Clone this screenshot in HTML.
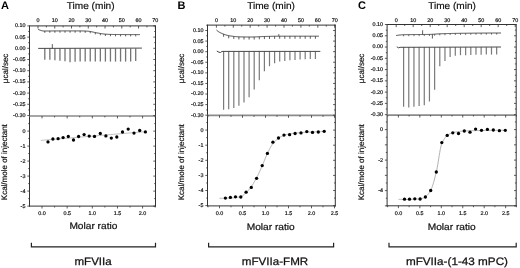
<!DOCTYPE html>
<html><head><meta charset="utf-8"><style>
html,body{margin:0;padding:0;background:#fff;}
svg{display:block;filter:blur(0.3px);}
text{font-family:"Liberation Sans", sans-serif;text-rendering:geometricPrecision;}
</style></head><body>
<svg width="520" height="268" viewBox="0 0 520 268">
<rect width="520" height="268" fill="#fff"/>
<line x1="29.5" y1="25.9" x2="155.5" y2="25.9" stroke="#333" stroke-width="1.0"/>
<line x1="29.5" y1="25.4" x2="29.5" y2="206.6" stroke="#333" stroke-width="1.0"/>
<line x1="155.5" y1="25.4" x2="155.5" y2="206.6" stroke="#333" stroke-width="1.0"/>
<line x1="29" y1="206.1" x2="156" y2="206.1" stroke="#333" stroke-width="1.0"/>
<line x1="29.5" y1="116" x2="155.5" y2="116" stroke="#8a8a8a" stroke-width="1.7"/>
<line x1="38" y1="25.9" x2="38" y2="28.5" stroke="#333" stroke-width="0.8"/>
<text x="38" y="22.2" font-size="5.4" text-anchor="middle" fill="#111" stroke="#111" stroke-width="0.2">0</text>
<line x1="46.38" y1="25.9" x2="46.38" y2="27.4" stroke="#333" stroke-width="0.8"/>
<line x1="54.76" y1="25.9" x2="54.76" y2="28.5" stroke="#333" stroke-width="0.8"/>
<text x="54.76" y="22.2" font-size="5.4" text-anchor="middle" fill="#111" stroke="#111" stroke-width="0.2">10</text>
<line x1="63.14" y1="25.9" x2="63.14" y2="27.4" stroke="#333" stroke-width="0.8"/>
<line x1="71.52" y1="25.9" x2="71.52" y2="28.5" stroke="#333" stroke-width="0.8"/>
<text x="71.52" y="22.2" font-size="5.4" text-anchor="middle" fill="#111" stroke="#111" stroke-width="0.2">20</text>
<line x1="79.9" y1="25.9" x2="79.9" y2="27.4" stroke="#333" stroke-width="0.8"/>
<line x1="88.28" y1="25.9" x2="88.28" y2="28.5" stroke="#333" stroke-width="0.8"/>
<text x="88.28" y="22.2" font-size="5.4" text-anchor="middle" fill="#111" stroke="#111" stroke-width="0.2">30</text>
<line x1="96.66" y1="25.9" x2="96.66" y2="27.4" stroke="#333" stroke-width="0.8"/>
<line x1="105.04" y1="25.9" x2="105.04" y2="28.5" stroke="#333" stroke-width="0.8"/>
<text x="105.04" y="22.2" font-size="5.4" text-anchor="middle" fill="#111" stroke="#111" stroke-width="0.2">40</text>
<line x1="113.42" y1="25.9" x2="113.42" y2="27.4" stroke="#333" stroke-width="0.8"/>
<line x1="121.8" y1="25.9" x2="121.8" y2="28.5" stroke="#333" stroke-width="0.8"/>
<text x="121.8" y="22.2" font-size="5.4" text-anchor="middle" fill="#111" stroke="#111" stroke-width="0.2">50</text>
<line x1="130.18" y1="25.9" x2="130.18" y2="27.4" stroke="#333" stroke-width="0.8"/>
<line x1="138.56" y1="25.9" x2="138.56" y2="28.5" stroke="#333" stroke-width="0.8"/>
<text x="138.56" y="22.2" font-size="5.4" text-anchor="middle" fill="#111" stroke="#111" stroke-width="0.2">60</text>
<line x1="146.94" y1="25.9" x2="146.94" y2="27.4" stroke="#333" stroke-width="0.8"/>
<line x1="155.32" y1="25.9" x2="155.32" y2="28.5" stroke="#333" stroke-width="0.8"/>
<text x="155.32" y="22.2" font-size="5.4" text-anchor="middle" fill="#111" stroke="#111" stroke-width="0.2">70</text>
<line x1="27.3" y1="25.9" x2="29.5" y2="25.9" stroke="#333" stroke-width="0.8"/>
<line x1="153.3" y1="25.9" x2="155.5" y2="25.9" stroke="#333" stroke-width="0.8"/>
<text x="25.4" y="27.35" font-size="5.4" text-anchor="end" fill="#111" stroke="#111" stroke-width="0.2">0.10</text>
<line x1="28.2" y1="31.5" x2="29.5" y2="31.5" stroke="#333" stroke-width="0.8"/>
<line x1="154.2" y1="31.5" x2="155.5" y2="31.5" stroke="#333" stroke-width="0.8"/>
<line x1="27.3" y1="37.1" x2="29.5" y2="37.1" stroke="#333" stroke-width="0.8"/>
<line x1="153.3" y1="37.1" x2="155.5" y2="37.1" stroke="#333" stroke-width="0.8"/>
<text x="25.4" y="38.55" font-size="5.4" text-anchor="end" fill="#111" stroke="#111" stroke-width="0.2">0.05</text>
<line x1="28.2" y1="42.7" x2="29.5" y2="42.7" stroke="#333" stroke-width="0.8"/>
<line x1="154.2" y1="42.7" x2="155.5" y2="42.7" stroke="#333" stroke-width="0.8"/>
<line x1="27.3" y1="48.3" x2="29.5" y2="48.3" stroke="#333" stroke-width="0.8"/>
<line x1="153.3" y1="48.3" x2="155.5" y2="48.3" stroke="#333" stroke-width="0.8"/>
<text x="25.4" y="49.75" font-size="5.4" text-anchor="end" fill="#111" stroke="#111" stroke-width="0.2">0.00</text>
<line x1="28.2" y1="53.9" x2="29.5" y2="53.9" stroke="#333" stroke-width="0.8"/>
<line x1="154.2" y1="53.9" x2="155.5" y2="53.9" stroke="#333" stroke-width="0.8"/>
<line x1="27.3" y1="59.5" x2="29.5" y2="59.5" stroke="#333" stroke-width="0.8"/>
<line x1="153.3" y1="59.5" x2="155.5" y2="59.5" stroke="#333" stroke-width="0.8"/>
<text x="25.4" y="60.95" font-size="5.4" text-anchor="end" fill="#111" stroke="#111" stroke-width="0.2">-0.05</text>
<line x1="28.2" y1="65.1" x2="29.5" y2="65.1" stroke="#333" stroke-width="0.8"/>
<line x1="154.2" y1="65.1" x2="155.5" y2="65.1" stroke="#333" stroke-width="0.8"/>
<line x1="27.3" y1="70.7" x2="29.5" y2="70.7" stroke="#333" stroke-width="0.8"/>
<line x1="153.3" y1="70.7" x2="155.5" y2="70.7" stroke="#333" stroke-width="0.8"/>
<text x="25.4" y="72.15" font-size="5.4" text-anchor="end" fill="#111" stroke="#111" stroke-width="0.2">-0.10</text>
<line x1="28.2" y1="76.3" x2="29.5" y2="76.3" stroke="#333" stroke-width="0.8"/>
<line x1="154.2" y1="76.3" x2="155.5" y2="76.3" stroke="#333" stroke-width="0.8"/>
<line x1="27.3" y1="81.9" x2="29.5" y2="81.9" stroke="#333" stroke-width="0.8"/>
<line x1="153.3" y1="81.9" x2="155.5" y2="81.9" stroke="#333" stroke-width="0.8"/>
<text x="25.4" y="83.35" font-size="5.4" text-anchor="end" fill="#111" stroke="#111" stroke-width="0.2">-0.15</text>
<line x1="28.2" y1="87.5" x2="29.5" y2="87.5" stroke="#333" stroke-width="0.8"/>
<line x1="154.2" y1="87.5" x2="155.5" y2="87.5" stroke="#333" stroke-width="0.8"/>
<line x1="27.3" y1="93.1" x2="29.5" y2="93.1" stroke="#333" stroke-width="0.8"/>
<line x1="153.3" y1="93.1" x2="155.5" y2="93.1" stroke="#333" stroke-width="0.8"/>
<text x="25.4" y="94.55" font-size="5.4" text-anchor="end" fill="#111" stroke="#111" stroke-width="0.2">-0.20</text>
<line x1="28.2" y1="98.7" x2="29.5" y2="98.7" stroke="#333" stroke-width="0.8"/>
<line x1="154.2" y1="98.7" x2="155.5" y2="98.7" stroke="#333" stroke-width="0.8"/>
<line x1="27.3" y1="104.3" x2="29.5" y2="104.3" stroke="#333" stroke-width="0.8"/>
<line x1="153.3" y1="104.3" x2="155.5" y2="104.3" stroke="#333" stroke-width="0.8"/>
<text x="25.4" y="105.75" font-size="5.4" text-anchor="end" fill="#111" stroke="#111" stroke-width="0.2">-0.25</text>
<line x1="28.2" y1="109.9" x2="29.5" y2="109.9" stroke="#333" stroke-width="0.8"/>
<line x1="154.2" y1="109.9" x2="155.5" y2="109.9" stroke="#333" stroke-width="0.8"/>
<line x1="27.3" y1="115.5" x2="29.5" y2="115.5" stroke="#333" stroke-width="0.8"/>
<line x1="153.3" y1="115.5" x2="155.5" y2="115.5" stroke="#333" stroke-width="0.8"/>
<text x="25.4" y="116.95" font-size="5.4" text-anchor="end" fill="#111" stroke="#111" stroke-width="0.2">-0.30</text>
<line x1="28.2" y1="123.6" x2="29.5" y2="123.6" stroke="#333" stroke-width="0.8"/>
<line x1="154.2" y1="123.6" x2="155.5" y2="123.6" stroke="#333" stroke-width="0.8"/>
<line x1="27.3" y1="131.1" x2="29.5" y2="131.1" stroke="#333" stroke-width="0.8"/>
<line x1="153.3" y1="131.1" x2="155.5" y2="131.1" stroke="#333" stroke-width="0.8"/>
<text x="25.4" y="132.9" font-size="5.4" text-anchor="end" fill="#111" stroke="#111" stroke-width="0.2">0</text>
<line x1="28.2" y1="138.6" x2="29.5" y2="138.6" stroke="#333" stroke-width="0.8"/>
<line x1="154.2" y1="138.6" x2="155.5" y2="138.6" stroke="#333" stroke-width="0.8"/>
<line x1="27.3" y1="146.1" x2="29.5" y2="146.1" stroke="#333" stroke-width="0.8"/>
<line x1="153.3" y1="146.1" x2="155.5" y2="146.1" stroke="#333" stroke-width="0.8"/>
<text x="25.4" y="147.9" font-size="5.4" text-anchor="end" fill="#111" stroke="#111" stroke-width="0.2">-1</text>
<line x1="28.2" y1="153.6" x2="29.5" y2="153.6" stroke="#333" stroke-width="0.8"/>
<line x1="154.2" y1="153.6" x2="155.5" y2="153.6" stroke="#333" stroke-width="0.8"/>
<line x1="27.3" y1="161.1" x2="29.5" y2="161.1" stroke="#333" stroke-width="0.8"/>
<line x1="153.3" y1="161.1" x2="155.5" y2="161.1" stroke="#333" stroke-width="0.8"/>
<text x="25.4" y="162.9" font-size="5.4" text-anchor="end" fill="#111" stroke="#111" stroke-width="0.2">-2</text>
<line x1="28.2" y1="168.6" x2="29.5" y2="168.6" stroke="#333" stroke-width="0.8"/>
<line x1="154.2" y1="168.6" x2="155.5" y2="168.6" stroke="#333" stroke-width="0.8"/>
<line x1="27.3" y1="176.1" x2="29.5" y2="176.1" stroke="#333" stroke-width="0.8"/>
<line x1="153.3" y1="176.1" x2="155.5" y2="176.1" stroke="#333" stroke-width="0.8"/>
<text x="25.4" y="177.9" font-size="5.4" text-anchor="end" fill="#111" stroke="#111" stroke-width="0.2">-3</text>
<line x1="28.2" y1="183.6" x2="29.5" y2="183.6" stroke="#333" stroke-width="0.8"/>
<line x1="154.2" y1="183.6" x2="155.5" y2="183.6" stroke="#333" stroke-width="0.8"/>
<line x1="27.3" y1="191.1" x2="29.5" y2="191.1" stroke="#333" stroke-width="0.8"/>
<line x1="153.3" y1="191.1" x2="155.5" y2="191.1" stroke="#333" stroke-width="0.8"/>
<text x="25.4" y="192.9" font-size="5.4" text-anchor="end" fill="#111" stroke="#111" stroke-width="0.2">-4</text>
<line x1="28.2" y1="198.6" x2="29.5" y2="198.6" stroke="#333" stroke-width="0.8"/>
<line x1="154.2" y1="198.6" x2="155.5" y2="198.6" stroke="#333" stroke-width="0.8"/>
<line x1="27.3" y1="206.1" x2="29.5" y2="206.1" stroke="#333" stroke-width="0.8"/>
<line x1="153.3" y1="206.1" x2="155.5" y2="206.1" stroke="#333" stroke-width="0.8"/>
<text x="25.4" y="207.9" font-size="5.4" text-anchor="end" fill="#111" stroke="#111" stroke-width="0.2">-5</text>
<line x1="42" y1="206.1" x2="42" y2="208.5" stroke="#333" stroke-width="0.8"/>
<line x1="42" y1="116" x2="42" y2="118.4" stroke="#333" stroke-width="0.8"/>
<text x="42" y="214.9" font-size="5.4" text-anchor="middle" fill="#111" stroke="#111" stroke-width="0.2">0.0</text>
<line x1="54.58" y1="206.1" x2="54.58" y2="207.5" stroke="#333" stroke-width="0.8"/>
<line x1="54.58" y1="116" x2="54.58" y2="117.4" stroke="#333" stroke-width="0.8"/>
<line x1="67.15" y1="206.1" x2="67.15" y2="208.5" stroke="#333" stroke-width="0.8"/>
<line x1="67.15" y1="116" x2="67.15" y2="118.4" stroke="#333" stroke-width="0.8"/>
<text x="67.15" y="214.9" font-size="5.4" text-anchor="middle" fill="#111" stroke="#111" stroke-width="0.2">0.5</text>
<line x1="79.72" y1="206.1" x2="79.72" y2="207.5" stroke="#333" stroke-width="0.8"/>
<line x1="79.72" y1="116" x2="79.72" y2="117.4" stroke="#333" stroke-width="0.8"/>
<line x1="92.3" y1="206.1" x2="92.3" y2="208.5" stroke="#333" stroke-width="0.8"/>
<line x1="92.3" y1="116" x2="92.3" y2="118.4" stroke="#333" stroke-width="0.8"/>
<text x="92.3" y="214.9" font-size="5.4" text-anchor="middle" fill="#111" stroke="#111" stroke-width="0.2">1.0</text>
<line x1="104.88" y1="206.1" x2="104.88" y2="207.5" stroke="#333" stroke-width="0.8"/>
<line x1="104.88" y1="116" x2="104.88" y2="117.4" stroke="#333" stroke-width="0.8"/>
<line x1="117.45" y1="206.1" x2="117.45" y2="208.5" stroke="#333" stroke-width="0.8"/>
<line x1="117.45" y1="116" x2="117.45" y2="118.4" stroke="#333" stroke-width="0.8"/>
<text x="117.45" y="214.9" font-size="5.4" text-anchor="middle" fill="#111" stroke="#111" stroke-width="0.2">1.5</text>
<line x1="130.02" y1="206.1" x2="130.02" y2="207.5" stroke="#333" stroke-width="0.8"/>
<line x1="130.02" y1="116" x2="130.02" y2="117.4" stroke="#333" stroke-width="0.8"/>
<line x1="142.6" y1="206.1" x2="142.6" y2="208.5" stroke="#333" stroke-width="0.8"/>
<line x1="142.6" y1="116" x2="142.6" y2="118.4" stroke="#333" stroke-width="0.8"/>
<text x="142.6" y="214.9" font-size="5.4" text-anchor="middle" fill="#111" stroke="#111" stroke-width="0.2">2.0</text>
<line x1="155.18" y1="206.1" x2="155.18" y2="207.5" stroke="#333" stroke-width="0.8"/>
<line x1="155.18" y1="116" x2="155.18" y2="117.4" stroke="#333" stroke-width="0.8"/>
<text x="7.6" y="68.4" font-size="8" text-anchor="middle" transform="rotate(-90 7.6 68.4)" fill="#111" stroke="#111" stroke-width="0.18">&#956;cal/sec</text>
<text x="7.4" y="162.2" font-size="8" text-anchor="middle" transform="rotate(-90 7.4 162.2)" fill="#111" stroke="#111" stroke-width="0.18">Kcal/mole of injectant</text>
<text x="1" y="8.7" font-size="11" text-anchor="start" font-weight="bold" fill="#000">A</text>
<text x="66.8" y="8.6" font-size="9.8" text-anchor="start" textLength="47.8" lengthAdjust="spacingAndGlyphs" fill="#111" stroke="#111" stroke-width="0.2">Time (min)</text>
<text x="69.4" y="229.4" font-size="9.4" text-anchor="start" textLength="48" lengthAdjust="spacingAndGlyphs" fill="#111" stroke="#111" stroke-width="0.2">Molar ratio</text>
<text x="74.5" y="265.4" font-size="10.8" text-anchor="start" textLength="37.2" lengthAdjust="spacingAndGlyphs" fill="#111" stroke="#111" stroke-width="0.25">mFVIIa</text>
<polyline points="31.4,242.7 31.4,246.8 155.5,246.8 155.5,242.7" fill="none" stroke="#222" stroke-width="1.2"/>
<line x1="207.5" y1="25.1" x2="335.3" y2="25.1" stroke="#333" stroke-width="1.0"/>
<line x1="207.5" y1="24.6" x2="207.5" y2="206.4" stroke="#333" stroke-width="1.0"/>
<line x1="335.3" y1="24.6" x2="335.3" y2="206.4" stroke="#333" stroke-width="1.0"/>
<line x1="207" y1="205.9" x2="335.8" y2="205.9" stroke="#333" stroke-width="1.0"/>
<line x1="207.5" y1="115.4" x2="335.3" y2="115.4" stroke="#8a8a8a" stroke-width="1.7"/>
<line x1="216.4" y1="25.1" x2="216.4" y2="27.7" stroke="#333" stroke-width="0.8"/>
<text x="216.4" y="22.2" font-size="5.4" text-anchor="middle" fill="#111" stroke="#111" stroke-width="0.2">0</text>
<line x1="224.85" y1="25.1" x2="224.85" y2="26.6" stroke="#333" stroke-width="0.8"/>
<line x1="233.3" y1="25.1" x2="233.3" y2="27.7" stroke="#333" stroke-width="0.8"/>
<text x="233.3" y="22.2" font-size="5.4" text-anchor="middle" fill="#111" stroke="#111" stroke-width="0.2">10</text>
<line x1="241.75" y1="25.1" x2="241.75" y2="26.6" stroke="#333" stroke-width="0.8"/>
<line x1="250.2" y1="25.1" x2="250.2" y2="27.7" stroke="#333" stroke-width="0.8"/>
<text x="250.2" y="22.2" font-size="5.4" text-anchor="middle" fill="#111" stroke="#111" stroke-width="0.2">20</text>
<line x1="258.65" y1="25.1" x2="258.65" y2="26.6" stroke="#333" stroke-width="0.8"/>
<line x1="267.1" y1="25.1" x2="267.1" y2="27.7" stroke="#333" stroke-width="0.8"/>
<text x="267.1" y="22.2" font-size="5.4" text-anchor="middle" fill="#111" stroke="#111" stroke-width="0.2">30</text>
<line x1="275.55" y1="25.1" x2="275.55" y2="26.6" stroke="#333" stroke-width="0.8"/>
<line x1="284" y1="25.1" x2="284" y2="27.7" stroke="#333" stroke-width="0.8"/>
<text x="284" y="22.2" font-size="5.4" text-anchor="middle" fill="#111" stroke="#111" stroke-width="0.2">40</text>
<line x1="292.45" y1="25.1" x2="292.45" y2="26.6" stroke="#333" stroke-width="0.8"/>
<line x1="300.9" y1="25.1" x2="300.9" y2="27.7" stroke="#333" stroke-width="0.8"/>
<text x="300.9" y="22.2" font-size="5.4" text-anchor="middle" fill="#111" stroke="#111" stroke-width="0.2">50</text>
<line x1="309.35" y1="25.1" x2="309.35" y2="26.6" stroke="#333" stroke-width="0.8"/>
<line x1="317.8" y1="25.1" x2="317.8" y2="27.7" stroke="#333" stroke-width="0.8"/>
<text x="317.8" y="22.2" font-size="5.4" text-anchor="middle" fill="#111" stroke="#111" stroke-width="0.2">60</text>
<line x1="326.25" y1="25.1" x2="326.25" y2="26.6" stroke="#333" stroke-width="0.8"/>
<line x1="334.7" y1="25.1" x2="334.7" y2="27.7" stroke="#333" stroke-width="0.8"/>
<text x="334.7" y="22.2" font-size="5.4" text-anchor="middle" fill="#111" stroke="#111" stroke-width="0.2">70</text>
<line x1="206.2" y1="25.21" x2="207.5" y2="25.21" stroke="#333" stroke-width="0.8"/>
<line x1="334" y1="25.21" x2="335.3" y2="25.21" stroke="#333" stroke-width="0.8"/>
<line x1="205.3" y1="30.5" x2="207.5" y2="30.5" stroke="#333" stroke-width="0.8"/>
<line x1="333.1" y1="30.5" x2="335.3" y2="30.5" stroke="#333" stroke-width="0.8"/>
<text x="203.4" y="31.95" font-size="5.4" text-anchor="end" fill="#111" stroke="#111" stroke-width="0.2">0.10</text>
<line x1="206.2" y1="35.79" x2="207.5" y2="35.79" stroke="#333" stroke-width="0.8"/>
<line x1="334" y1="35.79" x2="335.3" y2="35.79" stroke="#333" stroke-width="0.8"/>
<line x1="205.3" y1="41.09" x2="207.5" y2="41.09" stroke="#333" stroke-width="0.8"/>
<line x1="333.1" y1="41.09" x2="335.3" y2="41.09" stroke="#333" stroke-width="0.8"/>
<text x="203.4" y="42.54" font-size="5.4" text-anchor="end" fill="#111" stroke="#111" stroke-width="0.2">0.05</text>
<line x1="206.2" y1="46.38" x2="207.5" y2="46.38" stroke="#333" stroke-width="0.8"/>
<line x1="334" y1="46.38" x2="335.3" y2="46.38" stroke="#333" stroke-width="0.8"/>
<line x1="205.3" y1="51.67" x2="207.5" y2="51.67" stroke="#333" stroke-width="0.8"/>
<line x1="333.1" y1="51.67" x2="335.3" y2="51.67" stroke="#333" stroke-width="0.8"/>
<text x="203.4" y="53.12" font-size="5.4" text-anchor="end" fill="#111" stroke="#111" stroke-width="0.2">0.00</text>
<line x1="206.2" y1="56.97" x2="207.5" y2="56.97" stroke="#333" stroke-width="0.8"/>
<line x1="334" y1="56.97" x2="335.3" y2="56.97" stroke="#333" stroke-width="0.8"/>
<line x1="205.3" y1="62.26" x2="207.5" y2="62.26" stroke="#333" stroke-width="0.8"/>
<line x1="333.1" y1="62.26" x2="335.3" y2="62.26" stroke="#333" stroke-width="0.8"/>
<text x="203.4" y="63.71" font-size="5.4" text-anchor="end" fill="#111" stroke="#111" stroke-width="0.2">-0.05</text>
<line x1="206.2" y1="67.56" x2="207.5" y2="67.56" stroke="#333" stroke-width="0.8"/>
<line x1="334" y1="67.56" x2="335.3" y2="67.56" stroke="#333" stroke-width="0.8"/>
<line x1="205.3" y1="72.85" x2="207.5" y2="72.85" stroke="#333" stroke-width="0.8"/>
<line x1="333.1" y1="72.85" x2="335.3" y2="72.85" stroke="#333" stroke-width="0.8"/>
<text x="203.4" y="74.3" font-size="5.4" text-anchor="end" fill="#111" stroke="#111" stroke-width="0.2">-0.10</text>
<line x1="206.2" y1="78.14" x2="207.5" y2="78.14" stroke="#333" stroke-width="0.8"/>
<line x1="334" y1="78.14" x2="335.3" y2="78.14" stroke="#333" stroke-width="0.8"/>
<line x1="205.3" y1="83.44" x2="207.5" y2="83.44" stroke="#333" stroke-width="0.8"/>
<line x1="333.1" y1="83.44" x2="335.3" y2="83.44" stroke="#333" stroke-width="0.8"/>
<text x="203.4" y="84.89" font-size="5.4" text-anchor="end" fill="#111" stroke="#111" stroke-width="0.2">-0.15</text>
<line x1="206.2" y1="88.73" x2="207.5" y2="88.73" stroke="#333" stroke-width="0.8"/>
<line x1="334" y1="88.73" x2="335.3" y2="88.73" stroke="#333" stroke-width="0.8"/>
<line x1="205.3" y1="94.03" x2="207.5" y2="94.03" stroke="#333" stroke-width="0.8"/>
<line x1="333.1" y1="94.03" x2="335.3" y2="94.03" stroke="#333" stroke-width="0.8"/>
<text x="203.4" y="95.48" font-size="5.4" text-anchor="end" fill="#111" stroke="#111" stroke-width="0.2">-0.20</text>
<line x1="206.2" y1="99.32" x2="207.5" y2="99.32" stroke="#333" stroke-width="0.8"/>
<line x1="334" y1="99.32" x2="335.3" y2="99.32" stroke="#333" stroke-width="0.8"/>
<line x1="205.3" y1="104.61" x2="207.5" y2="104.61" stroke="#333" stroke-width="0.8"/>
<line x1="333.1" y1="104.61" x2="335.3" y2="104.61" stroke="#333" stroke-width="0.8"/>
<text x="203.4" y="106.06" font-size="5.4" text-anchor="end" fill="#111" stroke="#111" stroke-width="0.2">-0.25</text>
<line x1="206.2" y1="109.91" x2="207.5" y2="109.91" stroke="#333" stroke-width="0.8"/>
<line x1="334" y1="109.91" x2="335.3" y2="109.91" stroke="#333" stroke-width="0.8"/>
<line x1="205.3" y1="115.2" x2="207.5" y2="115.2" stroke="#333" stroke-width="0.8"/>
<line x1="333.1" y1="115.2" x2="335.3" y2="115.2" stroke="#333" stroke-width="0.8"/>
<text x="203.4" y="116.65" font-size="5.4" text-anchor="end" fill="#111" stroke="#111" stroke-width="0.2">-0.30</text>
<line x1="206.2" y1="122.55" x2="207.5" y2="122.55" stroke="#333" stroke-width="0.8"/>
<line x1="334" y1="122.55" x2="335.3" y2="122.55" stroke="#333" stroke-width="0.8"/>
<line x1="205.3" y1="130.1" x2="207.5" y2="130.1" stroke="#333" stroke-width="0.8"/>
<line x1="333.1" y1="130.1" x2="335.3" y2="130.1" stroke="#333" stroke-width="0.8"/>
<text x="203.4" y="131.9" font-size="5.4" text-anchor="end" fill="#111" stroke="#111" stroke-width="0.2">0</text>
<line x1="206.2" y1="137.65" x2="207.5" y2="137.65" stroke="#333" stroke-width="0.8"/>
<line x1="334" y1="137.65" x2="335.3" y2="137.65" stroke="#333" stroke-width="0.8"/>
<line x1="205.3" y1="145.2" x2="207.5" y2="145.2" stroke="#333" stroke-width="0.8"/>
<line x1="333.1" y1="145.2" x2="335.3" y2="145.2" stroke="#333" stroke-width="0.8"/>
<text x="203.4" y="147" font-size="5.4" text-anchor="end" fill="#111" stroke="#111" stroke-width="0.2">-1</text>
<line x1="206.2" y1="152.75" x2="207.5" y2="152.75" stroke="#333" stroke-width="0.8"/>
<line x1="334" y1="152.75" x2="335.3" y2="152.75" stroke="#333" stroke-width="0.8"/>
<line x1="205.3" y1="160.3" x2="207.5" y2="160.3" stroke="#333" stroke-width="0.8"/>
<line x1="333.1" y1="160.3" x2="335.3" y2="160.3" stroke="#333" stroke-width="0.8"/>
<text x="203.4" y="162.1" font-size="5.4" text-anchor="end" fill="#111" stroke="#111" stroke-width="0.2">-2</text>
<line x1="206.2" y1="167.85" x2="207.5" y2="167.85" stroke="#333" stroke-width="0.8"/>
<line x1="334" y1="167.85" x2="335.3" y2="167.85" stroke="#333" stroke-width="0.8"/>
<line x1="205.3" y1="175.4" x2="207.5" y2="175.4" stroke="#333" stroke-width="0.8"/>
<line x1="333.1" y1="175.4" x2="335.3" y2="175.4" stroke="#333" stroke-width="0.8"/>
<text x="203.4" y="177.2" font-size="5.4" text-anchor="end" fill="#111" stroke="#111" stroke-width="0.2">-3</text>
<line x1="206.2" y1="182.95" x2="207.5" y2="182.95" stroke="#333" stroke-width="0.8"/>
<line x1="334" y1="182.95" x2="335.3" y2="182.95" stroke="#333" stroke-width="0.8"/>
<line x1="205.3" y1="190.5" x2="207.5" y2="190.5" stroke="#333" stroke-width="0.8"/>
<line x1="333.1" y1="190.5" x2="335.3" y2="190.5" stroke="#333" stroke-width="0.8"/>
<text x="203.4" y="192.3" font-size="5.4" text-anchor="end" fill="#111" stroke="#111" stroke-width="0.2">-4</text>
<line x1="206.2" y1="198.05" x2="207.5" y2="198.05" stroke="#333" stroke-width="0.8"/>
<line x1="334" y1="198.05" x2="335.3" y2="198.05" stroke="#333" stroke-width="0.8"/>
<line x1="205.3" y1="205.6" x2="207.5" y2="205.6" stroke="#333" stroke-width="0.8"/>
<line x1="333.1" y1="205.6" x2="335.3" y2="205.6" stroke="#333" stroke-width="0.8"/>
<text x="203.4" y="207.4" font-size="5.4" text-anchor="end" fill="#111" stroke="#111" stroke-width="0.2">-5</text>
<line x1="208" y1="205.9" x2="208" y2="207.3" stroke="#333" stroke-width="0.8"/>
<line x1="208" y1="115.4" x2="208" y2="116.8" stroke="#333" stroke-width="0.8"/>
<line x1="219.5" y1="205.9" x2="219.5" y2="208.3" stroke="#333" stroke-width="0.8"/>
<line x1="219.5" y1="115.4" x2="219.5" y2="117.8" stroke="#333" stroke-width="0.8"/>
<text x="219.5" y="214.9" font-size="5.4" text-anchor="middle" fill="#111" stroke="#111" stroke-width="0.2">0.0</text>
<line x1="231" y1="205.9" x2="231" y2="207.3" stroke="#333" stroke-width="0.8"/>
<line x1="231" y1="115.4" x2="231" y2="116.8" stroke="#333" stroke-width="0.8"/>
<line x1="242.5" y1="205.9" x2="242.5" y2="208.3" stroke="#333" stroke-width="0.8"/>
<line x1="242.5" y1="115.4" x2="242.5" y2="117.8" stroke="#333" stroke-width="0.8"/>
<text x="242.5" y="214.9" font-size="5.4" text-anchor="middle" fill="#111" stroke="#111" stroke-width="0.2">0.5</text>
<line x1="254" y1="205.9" x2="254" y2="207.3" stroke="#333" stroke-width="0.8"/>
<line x1="254" y1="115.4" x2="254" y2="116.8" stroke="#333" stroke-width="0.8"/>
<line x1="265.5" y1="205.9" x2="265.5" y2="208.3" stroke="#333" stroke-width="0.8"/>
<line x1="265.5" y1="115.4" x2="265.5" y2="117.8" stroke="#333" stroke-width="0.8"/>
<text x="265.5" y="214.9" font-size="5.4" text-anchor="middle" fill="#111" stroke="#111" stroke-width="0.2">1.0</text>
<line x1="277" y1="205.9" x2="277" y2="207.3" stroke="#333" stroke-width="0.8"/>
<line x1="277" y1="115.4" x2="277" y2="116.8" stroke="#333" stroke-width="0.8"/>
<line x1="288.5" y1="205.9" x2="288.5" y2="208.3" stroke="#333" stroke-width="0.8"/>
<line x1="288.5" y1="115.4" x2="288.5" y2="117.8" stroke="#333" stroke-width="0.8"/>
<text x="288.5" y="214.9" font-size="5.4" text-anchor="middle" fill="#111" stroke="#111" stroke-width="0.2">1.5</text>
<line x1="300" y1="205.9" x2="300" y2="207.3" stroke="#333" stroke-width="0.8"/>
<line x1="300" y1="115.4" x2="300" y2="116.8" stroke="#333" stroke-width="0.8"/>
<line x1="311.5" y1="205.9" x2="311.5" y2="208.3" stroke="#333" stroke-width="0.8"/>
<line x1="311.5" y1="115.4" x2="311.5" y2="117.8" stroke="#333" stroke-width="0.8"/>
<text x="311.5" y="214.9" font-size="5.4" text-anchor="middle" fill="#111" stroke="#111" stroke-width="0.2">2.0</text>
<line x1="323" y1="205.9" x2="323" y2="207.3" stroke="#333" stroke-width="0.8"/>
<line x1="323" y1="115.4" x2="323" y2="116.8" stroke="#333" stroke-width="0.8"/>
<line x1="334.5" y1="205.9" x2="334.5" y2="208.3" stroke="#333" stroke-width="0.8"/>
<line x1="334.5" y1="115.4" x2="334.5" y2="117.8" stroke="#333" stroke-width="0.8"/>
<text x="334.5" y="214.9" font-size="5.4" text-anchor="middle" fill="#111" stroke="#111" stroke-width="0.2">2.5</text>
<text x="184.3" y="68.4" font-size="8" text-anchor="middle" transform="rotate(-90 184.3 68.4)" fill="#111" stroke="#111" stroke-width="0.18">&#956;cal/sec</text>
<text x="184.1" y="162.2" font-size="8" text-anchor="middle" transform="rotate(-90 184.1 162.2)" fill="#111" stroke="#111" stroke-width="0.18">Kcal/mole of injectant</text>
<text x="177.4" y="9.3" font-size="11" text-anchor="start" font-weight="bold" fill="#000">B</text>
<text x="247.2" y="8.6" font-size="9.8" text-anchor="start" textLength="47.8" lengthAdjust="spacingAndGlyphs" fill="#111" stroke="#111" stroke-width="0.2">Time (min)</text>
<text x="246.7" y="229.9" font-size="9.4" text-anchor="start" textLength="48" lengthAdjust="spacingAndGlyphs" fill="#111" stroke="#111" stroke-width="0.2">Molar ratio</text>
<text x="241.8" y="265.4" font-size="10.8" text-anchor="start" textLength="66.4" lengthAdjust="spacingAndGlyphs" fill="#111" stroke="#111" stroke-width="0.25">mFVIIa-FMR</text>
<polyline points="208.6,242.7 208.6,246.8 333.6,246.8 333.6,242.7" fill="none" stroke="#222" stroke-width="1.2"/>
<line x1="387.1" y1="24.5" x2="516.2" y2="24.5" stroke="#333" stroke-width="1.0"/>
<line x1="387.1" y1="24" x2="387.1" y2="206.3" stroke="#333" stroke-width="1.0"/>
<line x1="516.2" y1="24" x2="516.2" y2="206.3" stroke="#333" stroke-width="1.0"/>
<line x1="386.6" y1="205.8" x2="516.7" y2="205.8" stroke="#333" stroke-width="1.0"/>
<line x1="387.1" y1="115.1" x2="516.2" y2="115.1" stroke="#8a8a8a" stroke-width="1.7"/>
<line x1="396.2" y1="24.5" x2="396.2" y2="27.1" stroke="#333" stroke-width="0.8"/>
<text x="396.2" y="22.2" font-size="5.4" text-anchor="middle" fill="#111" stroke="#111" stroke-width="0.2">0</text>
<line x1="404.7" y1="24.5" x2="404.7" y2="26" stroke="#333" stroke-width="0.8"/>
<line x1="413.2" y1="24.5" x2="413.2" y2="27.1" stroke="#333" stroke-width="0.8"/>
<text x="413.2" y="22.2" font-size="5.4" text-anchor="middle" fill="#111" stroke="#111" stroke-width="0.2">10</text>
<line x1="421.7" y1="24.5" x2="421.7" y2="26" stroke="#333" stroke-width="0.8"/>
<line x1="430.2" y1="24.5" x2="430.2" y2="27.1" stroke="#333" stroke-width="0.8"/>
<text x="430.2" y="22.2" font-size="5.4" text-anchor="middle" fill="#111" stroke="#111" stroke-width="0.2">20</text>
<line x1="438.7" y1="24.5" x2="438.7" y2="26" stroke="#333" stroke-width="0.8"/>
<line x1="447.2" y1="24.5" x2="447.2" y2="27.1" stroke="#333" stroke-width="0.8"/>
<text x="447.2" y="22.2" font-size="5.4" text-anchor="middle" fill="#111" stroke="#111" stroke-width="0.2">30</text>
<line x1="455.7" y1="24.5" x2="455.7" y2="26" stroke="#333" stroke-width="0.8"/>
<line x1="464.2" y1="24.5" x2="464.2" y2="27.1" stroke="#333" stroke-width="0.8"/>
<text x="464.2" y="22.2" font-size="5.4" text-anchor="middle" fill="#111" stroke="#111" stroke-width="0.2">40</text>
<line x1="472.7" y1="24.5" x2="472.7" y2="26" stroke="#333" stroke-width="0.8"/>
<line x1="481.2" y1="24.5" x2="481.2" y2="27.1" stroke="#333" stroke-width="0.8"/>
<text x="481.2" y="22.2" font-size="5.4" text-anchor="middle" fill="#111" stroke="#111" stroke-width="0.2">50</text>
<line x1="489.7" y1="24.5" x2="489.7" y2="26" stroke="#333" stroke-width="0.8"/>
<line x1="498.2" y1="24.5" x2="498.2" y2="27.1" stroke="#333" stroke-width="0.8"/>
<text x="498.2" y="22.2" font-size="5.4" text-anchor="middle" fill="#111" stroke="#111" stroke-width="0.2">60</text>
<line x1="506.7" y1="24.5" x2="506.7" y2="26" stroke="#333" stroke-width="0.8"/>
<line x1="515.2" y1="24.5" x2="515.2" y2="27.1" stroke="#333" stroke-width="0.8"/>
<text x="515.2" y="22.2" font-size="5.4" text-anchor="middle" fill="#111" stroke="#111" stroke-width="0.2">70</text>
<line x1="384.9" y1="24.5" x2="387.1" y2="24.5" stroke="#333" stroke-width="0.8"/>
<line x1="514" y1="24.5" x2="516.2" y2="24.5" stroke="#333" stroke-width="0.8"/>
<text x="383" y="25.95" font-size="5.4" text-anchor="end" fill="#111" stroke="#111" stroke-width="0.2">0.10</text>
<line x1="385.8" y1="30.13" x2="387.1" y2="30.13" stroke="#333" stroke-width="0.8"/>
<line x1="514.9" y1="30.13" x2="516.2" y2="30.13" stroke="#333" stroke-width="0.8"/>
<line x1="384.9" y1="35.77" x2="387.1" y2="35.77" stroke="#333" stroke-width="0.8"/>
<line x1="514" y1="35.77" x2="516.2" y2="35.77" stroke="#333" stroke-width="0.8"/>
<text x="383" y="37.22" font-size="5.4" text-anchor="end" fill="#111" stroke="#111" stroke-width="0.2">0.05</text>
<line x1="385.8" y1="41.41" x2="387.1" y2="41.41" stroke="#333" stroke-width="0.8"/>
<line x1="514.9" y1="41.41" x2="516.2" y2="41.41" stroke="#333" stroke-width="0.8"/>
<line x1="384.9" y1="47.04" x2="387.1" y2="47.04" stroke="#333" stroke-width="0.8"/>
<line x1="514" y1="47.04" x2="516.2" y2="47.04" stroke="#333" stroke-width="0.8"/>
<text x="383" y="48.49" font-size="5.4" text-anchor="end" fill="#111" stroke="#111" stroke-width="0.2">0.00</text>
<line x1="385.8" y1="52.67" x2="387.1" y2="52.67" stroke="#333" stroke-width="0.8"/>
<line x1="514.9" y1="52.67" x2="516.2" y2="52.67" stroke="#333" stroke-width="0.8"/>
<line x1="384.9" y1="58.31" x2="387.1" y2="58.31" stroke="#333" stroke-width="0.8"/>
<line x1="514" y1="58.31" x2="516.2" y2="58.31" stroke="#333" stroke-width="0.8"/>
<text x="383" y="59.76" font-size="5.4" text-anchor="end" fill="#111" stroke="#111" stroke-width="0.2">-0.05</text>
<line x1="385.8" y1="63.95" x2="387.1" y2="63.95" stroke="#333" stroke-width="0.8"/>
<line x1="514.9" y1="63.95" x2="516.2" y2="63.95" stroke="#333" stroke-width="0.8"/>
<line x1="384.9" y1="69.58" x2="387.1" y2="69.58" stroke="#333" stroke-width="0.8"/>
<line x1="514" y1="69.58" x2="516.2" y2="69.58" stroke="#333" stroke-width="0.8"/>
<text x="383" y="71.03" font-size="5.4" text-anchor="end" fill="#111" stroke="#111" stroke-width="0.2">-0.10</text>
<line x1="385.8" y1="75.22" x2="387.1" y2="75.22" stroke="#333" stroke-width="0.8"/>
<line x1="514.9" y1="75.22" x2="516.2" y2="75.22" stroke="#333" stroke-width="0.8"/>
<line x1="384.9" y1="80.85" x2="387.1" y2="80.85" stroke="#333" stroke-width="0.8"/>
<line x1="514" y1="80.85" x2="516.2" y2="80.85" stroke="#333" stroke-width="0.8"/>
<text x="383" y="82.3" font-size="5.4" text-anchor="end" fill="#111" stroke="#111" stroke-width="0.2">-0.15</text>
<line x1="385.8" y1="86.49" x2="387.1" y2="86.49" stroke="#333" stroke-width="0.8"/>
<line x1="514.9" y1="86.49" x2="516.2" y2="86.49" stroke="#333" stroke-width="0.8"/>
<line x1="384.9" y1="92.12" x2="387.1" y2="92.12" stroke="#333" stroke-width="0.8"/>
<line x1="514" y1="92.12" x2="516.2" y2="92.12" stroke="#333" stroke-width="0.8"/>
<text x="383" y="93.57" font-size="5.4" text-anchor="end" fill="#111" stroke="#111" stroke-width="0.2">-0.20</text>
<line x1="385.8" y1="97.75" x2="387.1" y2="97.75" stroke="#333" stroke-width="0.8"/>
<line x1="514.9" y1="97.75" x2="516.2" y2="97.75" stroke="#333" stroke-width="0.8"/>
<line x1="384.9" y1="103.39" x2="387.1" y2="103.39" stroke="#333" stroke-width="0.8"/>
<line x1="514" y1="103.39" x2="516.2" y2="103.39" stroke="#333" stroke-width="0.8"/>
<text x="383" y="104.84" font-size="5.4" text-anchor="end" fill="#111" stroke="#111" stroke-width="0.2">-0.25</text>
<line x1="385.8" y1="109.03" x2="387.1" y2="109.03" stroke="#333" stroke-width="0.8"/>
<line x1="514.9" y1="109.03" x2="516.2" y2="109.03" stroke="#333" stroke-width="0.8"/>
<line x1="384.9" y1="114.66" x2="387.1" y2="114.66" stroke="#333" stroke-width="0.8"/>
<line x1="514" y1="114.66" x2="516.2" y2="114.66" stroke="#333" stroke-width="0.8"/>
<text x="383" y="116.11" font-size="5.4" text-anchor="end" fill="#111" stroke="#111" stroke-width="0.2">-0.30</text>
<line x1="385.8" y1="121.97" x2="387.1" y2="121.97" stroke="#333" stroke-width="0.8"/>
<line x1="514.9" y1="121.97" x2="516.2" y2="121.97" stroke="#333" stroke-width="0.8"/>
<line x1="384.9" y1="129.6" x2="387.1" y2="129.6" stroke="#333" stroke-width="0.8"/>
<line x1="514" y1="129.6" x2="516.2" y2="129.6" stroke="#333" stroke-width="0.8"/>
<text x="383" y="131.4" font-size="5.4" text-anchor="end" fill="#111" stroke="#111" stroke-width="0.2">0</text>
<line x1="385.8" y1="137.22" x2="387.1" y2="137.22" stroke="#333" stroke-width="0.8"/>
<line x1="514.9" y1="137.22" x2="516.2" y2="137.22" stroke="#333" stroke-width="0.8"/>
<line x1="384.9" y1="144.85" x2="387.1" y2="144.85" stroke="#333" stroke-width="0.8"/>
<line x1="514" y1="144.85" x2="516.2" y2="144.85" stroke="#333" stroke-width="0.8"/>
<line x1="385.8" y1="152.47" x2="387.1" y2="152.47" stroke="#333" stroke-width="0.8"/>
<line x1="514.9" y1="152.47" x2="516.2" y2="152.47" stroke="#333" stroke-width="0.8"/>
<line x1="384.9" y1="160.1" x2="387.1" y2="160.1" stroke="#333" stroke-width="0.8"/>
<line x1="514" y1="160.1" x2="516.2" y2="160.1" stroke="#333" stroke-width="0.8"/>
<text x="383" y="161.9" font-size="5.4" text-anchor="end" fill="#111" stroke="#111" stroke-width="0.2">-2</text>
<line x1="385.8" y1="167.72" x2="387.1" y2="167.72" stroke="#333" stroke-width="0.8"/>
<line x1="514.9" y1="167.72" x2="516.2" y2="167.72" stroke="#333" stroke-width="0.8"/>
<line x1="384.9" y1="175.35" x2="387.1" y2="175.35" stroke="#333" stroke-width="0.8"/>
<line x1="514" y1="175.35" x2="516.2" y2="175.35" stroke="#333" stroke-width="0.8"/>
<line x1="385.8" y1="182.97" x2="387.1" y2="182.97" stroke="#333" stroke-width="0.8"/>
<line x1="514.9" y1="182.97" x2="516.2" y2="182.97" stroke="#333" stroke-width="0.8"/>
<line x1="384.9" y1="190.6" x2="387.1" y2="190.6" stroke="#333" stroke-width="0.8"/>
<line x1="514" y1="190.6" x2="516.2" y2="190.6" stroke="#333" stroke-width="0.8"/>
<text x="383" y="192.4" font-size="5.4" text-anchor="end" fill="#111" stroke="#111" stroke-width="0.2">-4</text>
<line x1="385.8" y1="198.22" x2="387.1" y2="198.22" stroke="#333" stroke-width="0.8"/>
<line x1="514.9" y1="198.22" x2="516.2" y2="198.22" stroke="#333" stroke-width="0.8"/>
<line x1="384.9" y1="205.85" x2="387.1" y2="205.85" stroke="#333" stroke-width="0.8"/>
<line x1="514" y1="205.85" x2="516.2" y2="205.85" stroke="#333" stroke-width="0.8"/>
<line x1="387.67" y1="205.8" x2="387.67" y2="207.2" stroke="#333" stroke-width="0.8"/>
<line x1="387.67" y1="115.1" x2="387.67" y2="116.5" stroke="#333" stroke-width="0.8"/>
<line x1="398.4" y1="205.8" x2="398.4" y2="208.2" stroke="#333" stroke-width="0.8"/>
<line x1="398.4" y1="115.1" x2="398.4" y2="117.5" stroke="#333" stroke-width="0.8"/>
<text x="398.4" y="214.9" font-size="5.4" text-anchor="middle" fill="#111" stroke="#111" stroke-width="0.2">0.0</text>
<line x1="409.12" y1="205.8" x2="409.12" y2="207.2" stroke="#333" stroke-width="0.8"/>
<line x1="409.12" y1="115.1" x2="409.12" y2="116.5" stroke="#333" stroke-width="0.8"/>
<line x1="419.85" y1="205.8" x2="419.85" y2="208.2" stroke="#333" stroke-width="0.8"/>
<line x1="419.85" y1="115.1" x2="419.85" y2="117.5" stroke="#333" stroke-width="0.8"/>
<text x="419.85" y="214.9" font-size="5.4" text-anchor="middle" fill="#111" stroke="#111" stroke-width="0.2">0.5</text>
<line x1="430.57" y1="205.8" x2="430.57" y2="207.2" stroke="#333" stroke-width="0.8"/>
<line x1="430.57" y1="115.1" x2="430.57" y2="116.5" stroke="#333" stroke-width="0.8"/>
<line x1="441.3" y1="205.8" x2="441.3" y2="208.2" stroke="#333" stroke-width="0.8"/>
<line x1="441.3" y1="115.1" x2="441.3" y2="117.5" stroke="#333" stroke-width="0.8"/>
<text x="441.3" y="214.9" font-size="5.4" text-anchor="middle" fill="#111" stroke="#111" stroke-width="0.2">1.0</text>
<line x1="452.02" y1="205.8" x2="452.02" y2="207.2" stroke="#333" stroke-width="0.8"/>
<line x1="452.02" y1="115.1" x2="452.02" y2="116.5" stroke="#333" stroke-width="0.8"/>
<line x1="462.75" y1="205.8" x2="462.75" y2="208.2" stroke="#333" stroke-width="0.8"/>
<line x1="462.75" y1="115.1" x2="462.75" y2="117.5" stroke="#333" stroke-width="0.8"/>
<text x="462.75" y="214.9" font-size="5.4" text-anchor="middle" fill="#111" stroke="#111" stroke-width="0.2">1.5</text>
<line x1="473.47" y1="205.8" x2="473.47" y2="207.2" stroke="#333" stroke-width="0.8"/>
<line x1="473.47" y1="115.1" x2="473.47" y2="116.5" stroke="#333" stroke-width="0.8"/>
<line x1="484.2" y1="205.8" x2="484.2" y2="208.2" stroke="#333" stroke-width="0.8"/>
<line x1="484.2" y1="115.1" x2="484.2" y2="117.5" stroke="#333" stroke-width="0.8"/>
<text x="484.2" y="214.9" font-size="5.4" text-anchor="middle" fill="#111" stroke="#111" stroke-width="0.2">2.0</text>
<line x1="494.92" y1="205.8" x2="494.92" y2="207.2" stroke="#333" stroke-width="0.8"/>
<line x1="494.92" y1="115.1" x2="494.92" y2="116.5" stroke="#333" stroke-width="0.8"/>
<line x1="505.65" y1="205.8" x2="505.65" y2="208.2" stroke="#333" stroke-width="0.8"/>
<line x1="505.65" y1="115.1" x2="505.65" y2="117.5" stroke="#333" stroke-width="0.8"/>
<text x="505.65" y="214.9" font-size="5.4" text-anchor="middle" fill="#111" stroke="#111" stroke-width="0.2">2.5</text>
<line x1="516.38" y1="205.8" x2="516.38" y2="207.2" stroke="#333" stroke-width="0.8"/>
<line x1="516.38" y1="115.1" x2="516.38" y2="116.5" stroke="#333" stroke-width="0.8"/>
<text x="364.3" y="68.4" font-size="8" text-anchor="middle" transform="rotate(-90 364.3 68.4)" fill="#111" stroke="#111" stroke-width="0.18">&#956;cal/sec</text>
<text x="363.9" y="162.2" font-size="8" text-anchor="middle" transform="rotate(-90 363.9 162.2)" fill="#111" stroke="#111" stroke-width="0.18">Kcal/mole of injectant</text>
<text x="357.9" y="9.3" font-size="11" text-anchor="start" font-weight="bold" fill="#000">C</text>
<text x="428.2" y="8.6" font-size="9.8" text-anchor="start" textLength="47.8" lengthAdjust="spacingAndGlyphs" fill="#111" stroke="#111" stroke-width="0.2">Time (min)</text>
<text x="427.7" y="230.1" font-size="9.4" text-anchor="start" textLength="48" lengthAdjust="spacingAndGlyphs" fill="#111" stroke="#111" stroke-width="0.2">Molar ratio</text>
<text x="405.9" y="265.4" font-size="10.8" text-anchor="start" textLength="102.1" lengthAdjust="spacingAndGlyphs" fill="#111" stroke="#111" stroke-width="0.25">mFVIIa-(1-43 mPC)</text>
<polyline points="389,242.7 389,246.8 516.2,246.8 516.2,242.7" fill="none" stroke="#222" stroke-width="1.2"/>
<polyline points="38,29.3 38.5,29.53 39,29.75 39.5,29.96 40,30.14 40.5,30.3 41,30.46 41.5,30.61 42,30.76 42.5,30.88 43,30.97 43.5,31 44,31 44.5,31 45,31 45.5,31 46,30.99 46.5,30.99 47,30.99 47.5,30.99 48,30.98 48.5,30.98 49,30.97 49.5,30.97 50,30.97 50.5,30.96 51,30.96 51.5,30.95 52,30.95 52.5,30.94 53,30.94 53.5,30.93 54,30.93 54.5,30.93 55,30.92 55.5,30.92 56,30.91 56.5,30.91 57,30.91 57.5,30.91 58,30.9 58.5,30.9 59,30.9 59.5,30.9 60,30.9 60.5,30.9 61,30.9 61.5,30.9 62,30.9 62.5,30.9 63,30.9 63.5,30.9 64,30.9 64.5,30.9 65,30.9 65.5,30.9 66,30.9 66.5,30.9 67,30.9 67.5,30.9 68,30.9 68.5,30.9 69,30.9 69.5,30.9 70,30.9 70.5,30.9 71,30.9 71.5,30.9 72,30.9 72.5,30.9 73,30.9 73.5,30.9 74,30.9 74.5,30.9 75,30.9 75.5,30.9 76,30.9 76.5,30.9 77,30.9 77.5,30.9 78,30.9 78.5,30.9 79,30.9 79.5,30.9 80,30.9 80.5,30.9 81,30.91 81.5,30.91 82,30.92 82.5,30.94 83,30.95 83.5,30.97 84,30.99 84.5,31.01 85,31.03 85.5,31.06 86,31.08 86.5,31.11 87,31.14 87.5,31.17 88,31.2 88.5,31.24 89,31.29 89.5,31.36 90,31.43 90.5,31.52 91,31.61 91.5,31.72 92,31.82 92.5,31.94 93,32.05 93.5,32.17 94,32.28 94.5,32.4 95,32.51 95.5,32.62 96,32.72 96.5,32.81 97,32.9 97.5,32.98 98,33.07 98.5,33.16 99,33.24 99.5,33.33 100,33.42 100.5,33.51 101,33.59 101.5,33.67 102,33.75 102.5,33.83 103,33.9 103.5,33.97 104,34.03 104.5,34.08 105,34.13 105.5,34.17 106,34.2 106.5,34.23 107,34.25 107.5,34.28 108,34.3 108.5,34.32 109,34.34 109.5,34.36 110,34.38 110.5,34.4 111,34.42 111.5,34.43 112,34.45 112.5,34.46 113,34.47 113.5,34.48 114,34.49 114.5,34.5 115,34.5 115.5,34.5 116,34.51 116.5,34.51 117,34.52 117.5,34.52 118,34.52 118.5,34.53 119,34.53 119.5,34.53 120,34.54 120.5,34.54 121,34.54 121.5,34.55 122,34.55 122.5,34.55 123,34.55 123.5,34.56 124,34.56 124.5,34.56 125,34.56 125.5,34.57 126,34.57 126.5,34.57 127,34.57 127.5,34.57 128,34.58 128.5,34.58 129,34.58 129.5,34.58 130,34.58 130.5,34.59 131,34.59 131.5,34.59 132,34.59 132.5,34.59 133,34.59 133.5,34.59 134,34.59 134.5,34.59 135,34.6 135.5,34.6 136,34.6 136.5,34.6 137,34.6 137.5,34.6 138,34.6 138.5,34.6 139,34.6 139.5,34.6 140,34.6" fill="none" stroke="#333" stroke-width="0.9"/>
<line x1="44.8" y1="31" x2="44.8" y2="32.8" stroke="#333" stroke-width="0.8"/>
<line x1="49.85" y1="30.97" x2="49.85" y2="32.77" stroke="#333" stroke-width="0.8"/>
<line x1="54.9" y1="30.92" x2="54.9" y2="32.72" stroke="#333" stroke-width="0.8"/>
<line x1="59.95" y1="30.9" x2="59.95" y2="32.7" stroke="#333" stroke-width="0.8"/>
<line x1="65" y1="30.9" x2="65" y2="32.7" stroke="#333" stroke-width="0.8"/>
<line x1="70.05" y1="30.9" x2="70.05" y2="32.7" stroke="#333" stroke-width="0.8"/>
<line x1="75.1" y1="30.9" x2="75.1" y2="32.7" stroke="#333" stroke-width="0.8"/>
<line x1="80.15" y1="30.9" x2="80.15" y2="32.7" stroke="#333" stroke-width="0.8"/>
<line x1="85.2" y1="31.04" x2="85.2" y2="32.84" stroke="#333" stroke-width="0.8"/>
<line x1="90.25" y1="31.47" x2="90.25" y2="33.27" stroke="#333" stroke-width="0.8"/>
<line x1="95.3" y1="32.57" x2="95.3" y2="34.37" stroke="#333" stroke-width="0.8"/>
<line x1="100.35" y1="33.48" x2="100.35" y2="35.28" stroke="#333" stroke-width="0.8"/>
<line x1="105.4" y1="34.16" x2="105.4" y2="35.96" stroke="#333" stroke-width="0.8"/>
<line x1="110.45" y1="34.4" x2="110.45" y2="36.2" stroke="#333" stroke-width="0.8"/>
<line x1="115.5" y1="34.5" x2="115.5" y2="36.3" stroke="#333" stroke-width="0.8"/>
<line x1="120.55" y1="34.54" x2="120.55" y2="36.34" stroke="#333" stroke-width="0.8"/>
<line x1="125.6" y1="34.57" x2="125.6" y2="36.37" stroke="#333" stroke-width="0.8"/>
<line x1="130.65" y1="34.59" x2="130.65" y2="36.39" stroke="#333" stroke-width="0.8"/>
<line x1="135.7" y1="34.6" x2="135.7" y2="36.4" stroke="#333" stroke-width="0.8"/>
<line x1="44.8" y1="48.4" x2="44.8" y2="59.8" stroke="#747474" stroke-width="1.3"/>
<line x1="49.85" y1="48.4" x2="49.85" y2="59.8" stroke="#747474" stroke-width="1.3"/>
<line x1="54.9" y1="48.4" x2="54.9" y2="60.3" stroke="#747474" stroke-width="1.3"/>
<line x1="59.95" y1="48.4" x2="59.95" y2="60.8" stroke="#747474" stroke-width="1.3"/>
<line x1="65" y1="48.4" x2="65" y2="61.2" stroke="#747474" stroke-width="1.3"/>
<line x1="70.05" y1="48.4" x2="70.05" y2="62.2" stroke="#747474" stroke-width="1.3"/>
<line x1="75.1" y1="48.4" x2="75.1" y2="61.7" stroke="#747474" stroke-width="1.3"/>
<line x1="80.15" y1="48.4" x2="80.15" y2="61.5" stroke="#747474" stroke-width="1.3"/>
<line x1="85.2" y1="48.4" x2="85.2" y2="61.5" stroke="#747474" stroke-width="1.3"/>
<line x1="90.25" y1="48.4" x2="90.25" y2="61.6" stroke="#747474" stroke-width="1.3"/>
<line x1="95.3" y1="48.4" x2="95.3" y2="61.6" stroke="#747474" stroke-width="1.3"/>
<line x1="100.35" y1="48.4" x2="100.35" y2="61.6" stroke="#747474" stroke-width="1.3"/>
<line x1="105.4" y1="48.4" x2="105.4" y2="61.6" stroke="#747474" stroke-width="1.3"/>
<line x1="110.45" y1="48.4" x2="110.45" y2="61.6" stroke="#747474" stroke-width="1.3"/>
<line x1="115.5" y1="48.4" x2="115.5" y2="61.6" stroke="#747474" stroke-width="1.3"/>
<line x1="120.55" y1="48.4" x2="120.55" y2="61.6" stroke="#747474" stroke-width="1.3"/>
<line x1="125.6" y1="48.4" x2="125.6" y2="61.6" stroke="#747474" stroke-width="1.3"/>
<line x1="130.65" y1="48.4" x2="130.65" y2="61.5" stroke="#747474" stroke-width="1.3"/>
<line x1="135.7" y1="48.4" x2="135.7" y2="61" stroke="#747474" stroke-width="1.3"/>
<polyline points="38.2,48.4 141.9,48.1" fill="none" stroke="#333" stroke-width="0.9"/>
<line x1="52.3" y1="48.4" x2="52.3" y2="44.1" stroke="#333" stroke-width="0.8"/>
<polyline points="216.5,30.09 217,30.52 217.5,30.93 218,31.32 218.5,31.68 219,32 219.5,32.29 220,32.56 220.5,32.82 221,33.06 221.5,33.29 222,33.51 222.5,33.72 223,33.91 223.5,34.1 224,34.28 224.5,34.46 225,34.64 225.5,34.81 226,34.98 226.5,35.13 227,35.28 227.5,35.42 228,35.54 228.5,35.66 229,35.75 229.5,35.83 230,35.91 230.5,35.98 231,36.05 231.5,36.12 232,36.19 232.5,36.25 233,36.32 233.5,36.38 234,36.43 234.5,36.49 235,36.54 235.5,36.59 236,36.64 236.5,36.68 237,36.72 237.5,36.76 238,36.79 238.5,36.82 239,36.84 239.5,36.86 240,36.88 240.5,36.89 241,36.9 241.5,36.91 242,36.92 242.5,36.93 243,36.93 243.5,36.94 244,36.95 244.5,36.95 245,36.96 245.5,36.96 246,36.97 246.5,36.97 247,36.98 247.5,36.98 248,36.99 248.5,36.99 249,36.99 249.5,36.99 250,37 250.5,37 251,37 251.5,37 252,37 252.5,37 253,36.99 253.5,36.98 254,36.97 254.5,36.95 255,36.94 255.5,36.92 256,36.89 256.5,36.87 257,36.84 257.5,36.82 258,36.79 258.5,36.76 259,36.73 259.5,36.7 260,36.68 260.5,36.65 261,36.62 261.5,36.6 262,36.57 262.5,36.55 263,36.53 263.5,36.51 264,36.5 264.5,36.49 265,36.47 265.5,36.46 266,36.45 266.5,36.43 267,36.42 267.5,36.41 268,36.39 268.5,36.38 269,36.37 269.5,36.36 270,36.34 270.5,36.33 271,36.32 271.5,36.31 272,36.3 272.5,36.29 273,36.28 273.5,36.27 274,36.26 274.5,36.25 275,36.24 275.5,36.23 276,36.23 276.5,36.22 277,36.22 277.5,36.21 278,36.21 278.5,36.2 279,36.2 279.5,36.2 280,36.2 280.5,36.2 281,36.2 281.5,36.2 282,36.2 282.5,36.2 283,36.2 283.5,36.2 284,36.2 284.5,36.2 285,36.2 285.5,36.2 286,36.2 286.5,36.2 287,36.2 287.5,36.2 288,36.2 288.5,36.2 289,36.2 289.5,36.2 290,36.2 290.5,36.2 291,36.2 291.5,36.2 292,36.2 292.5,36.2 293,36.2 293.5,36.2 294,36.2 294.5,36.2 295,36.2 295.5,36.2 296,36.2 296.5,36.2 297,36.2 297.5,36.2 298,36.2 298.5,36.2 299,36.2 299.5,36.2 300,36.2 300.5,36.2 301,36.2 301.5,36.2 302,36.2 302.5,36.2 303,36.2 303.5,36.2 304,36.2 304.5,36.2 305,36.2 305.5,36.2 306,36.2 306.5,36.2 307,36.2 307.5,36.2 308,36.2 308.5,36.2 309,36.2 309.5,36.2 310,36.2 310.5,36.2 311,36.2 311.5,36.2 312,36.2 312.5,36.2 313,36.2 313.5,36.2 314,36.2 314.5,36.2 315,36.2 315.5,36.2 316,36.2 316.5,36.2 317,36.2 317.5,36.2 318,36.2 318.5,36.2 319,36.2" fill="none" stroke="#333" stroke-width="0.9"/>
<line x1="223.6" y1="34.14" x2="223.6" y2="36.74" stroke="#333" stroke-width="0.8"/>
<line x1="228.7" y1="35.7" x2="228.7" y2="38.3" stroke="#333" stroke-width="0.8"/>
<line x1="233.8" y1="36.41" x2="233.8" y2="39.01" stroke="#333" stroke-width="0.8"/>
<line x1="238.9" y1="36.84" x2="238.9" y2="39.44" stroke="#333" stroke-width="0.8"/>
<line x1="244" y1="36.95" x2="244" y2="39.55" stroke="#333" stroke-width="0.8"/>
<line x1="249.1" y1="36.99" x2="249.1" y2="39.59" stroke="#333" stroke-width="0.8"/>
<line x1="254.2" y1="36.96" x2="254.2" y2="39.56" stroke="#333" stroke-width="0.8"/>
<line x1="259.3" y1="36.72" x2="259.3" y2="39.32" stroke="#333" stroke-width="0.8"/>
<line x1="264.4" y1="36.49" x2="264.4" y2="39.09" stroke="#333" stroke-width="0.8"/>
<line x1="269.5" y1="36.36" x2="269.5" y2="38.96" stroke="#333" stroke-width="0.8"/>
<line x1="274.6" y1="36.25" x2="274.6" y2="38.85" stroke="#333" stroke-width="0.8"/>
<line x1="279.7" y1="36.2" x2="279.7" y2="38.8" stroke="#333" stroke-width="0.8"/>
<line x1="284.8" y1="36.2" x2="284.8" y2="38.8" stroke="#333" stroke-width="0.8"/>
<line x1="289.9" y1="36.2" x2="289.9" y2="38.8" stroke="#333" stroke-width="0.8"/>
<line x1="295" y1="36.2" x2="295" y2="38.8" stroke="#333" stroke-width="0.8"/>
<line x1="300.1" y1="36.2" x2="300.1" y2="38.8" stroke="#333" stroke-width="0.8"/>
<line x1="305.2" y1="36.2" x2="305.2" y2="38.8" stroke="#333" stroke-width="0.8"/>
<line x1="310.3" y1="36.2" x2="310.3" y2="38.8" stroke="#333" stroke-width="0.8"/>
<line x1="315.4" y1="36.2" x2="315.4" y2="38.8" stroke="#333" stroke-width="0.8"/>
<line x1="278.8" y1="36.2" x2="278.8" y2="34" stroke="#333" stroke-width="0.7"/>
<line x1="223.6" y1="51.5" x2="223.6" y2="109.8" stroke="#7a7a7a" stroke-width="1.2"/>
<line x1="228.7" y1="51.5" x2="228.7" y2="109.2" stroke="#7a7a7a" stroke-width="1.2"/>
<line x1="233.8" y1="51.5" x2="233.8" y2="107.9" stroke="#7a7a7a" stroke-width="1.2"/>
<line x1="238.9" y1="51.5" x2="238.9" y2="105.8" stroke="#7a7a7a" stroke-width="1.2"/>
<line x1="244" y1="51.5" x2="244" y2="102.5" stroke="#7a7a7a" stroke-width="1.2"/>
<line x1="249.1" y1="51.5" x2="249.1" y2="97.2" stroke="#7a7a7a" stroke-width="1.2"/>
<line x1="254.2" y1="51.5" x2="254.2" y2="89.5" stroke="#7a7a7a" stroke-width="1.2"/>
<line x1="259.3" y1="51.5" x2="259.3" y2="80.2" stroke="#7a7a7a" stroke-width="1.2"/>
<line x1="264.4" y1="51.5" x2="264.4" y2="71.2" stroke="#7a7a7a" stroke-width="1.2"/>
<line x1="269.5" y1="51.5" x2="269.5" y2="66.2" stroke="#7a7a7a" stroke-width="1.2"/>
<line x1="274.6" y1="51.5" x2="274.6" y2="63.3" stroke="#7a7a7a" stroke-width="1.2"/>
<line x1="279.7" y1="51.5" x2="279.7" y2="61.5" stroke="#7a7a7a" stroke-width="1.2"/>
<line x1="284.8" y1="51.5" x2="284.8" y2="60.9" stroke="#7a7a7a" stroke-width="1.2"/>
<line x1="289.9" y1="51.5" x2="289.9" y2="60.3" stroke="#7a7a7a" stroke-width="1.2"/>
<line x1="295" y1="51.5" x2="295" y2="60" stroke="#7a7a7a" stroke-width="1.2"/>
<line x1="300.1" y1="51.5" x2="300.1" y2="59.6" stroke="#7a7a7a" stroke-width="1.2"/>
<line x1="305.2" y1="51.5" x2="305.2" y2="59.3" stroke="#7a7a7a" stroke-width="1.2"/>
<line x1="310.3" y1="51.5" x2="310.3" y2="59.1" stroke="#7a7a7a" stroke-width="1.2"/>
<line x1="315.4" y1="51.5" x2="315.4" y2="59" stroke="#7a7a7a" stroke-width="1.2"/>
<polyline points="216.8,51.1 219,52.2 220.5,52.5 222,51.4 320.3,51.4" fill="none" stroke="#333" stroke-width="0.9"/>
<polyline points="396,35.56 396.5,35.47 397,35.39 397.5,35.3 398,35.23 398.5,35.16 399,35.1 399.5,35.05 400,34.99 400.5,34.94 401,34.89 401.5,34.85 402,34.81 402.5,34.77 403,34.74 403.5,34.72 404,34.7 404.5,34.69 405,34.68 405.5,34.67 406,34.66 406.5,34.65 407,34.64 407.5,34.63 408,34.62 408.5,34.62 409,34.61 409.5,34.6 410,34.6 410.5,34.59 411,34.58 411.5,34.58 412,34.58 412.5,34.57 413,34.57 413.5,34.56 414,34.56 414.5,34.56 415,34.55 415.5,34.55 416,34.55 416.5,34.54 417,34.54 417.5,34.54 418,34.53 418.5,34.53 419,34.53 419.5,34.52 420,34.52 420.5,34.52 421,34.51 421.5,34.51 422,34.51 422.5,34.5 423,34.5 423.5,34.49 424,34.49 424.5,34.48 425,34.48 425.5,34.47 426,34.47 426.5,34.46 427,34.45 427.5,34.45 428,34.44 428.5,34.43 429,34.42 429.5,34.41 430,34.4 430.5,34.39 431,34.37 431.5,34.35 432,34.33 432.5,34.3 433,34.27 433.5,34.24 434,34.21 434.5,34.17 435,34.14 435.5,34.1 436,34.06 436.5,34.03 437,33.99 437.5,33.95 438,33.92 438.5,33.88 439,33.85 439.5,33.82 440,33.79 440.5,33.76 441,33.74 441.5,33.72 442,33.7 442.5,33.69 443,33.67 443.5,33.66 444,33.64 444.5,33.63 445,33.62 445.5,33.6 446,33.59 446.5,33.58 447,33.57 447.5,33.55 448,33.54 448.5,33.53 449,33.52 449.5,33.51 450,33.5 450.5,33.49 451,33.47 451.5,33.46 452,33.45 452.5,33.44 453,33.43 453.5,33.43 454,33.42 454.5,33.41 455,33.4 455.5,33.39 456,33.38 456.5,33.37 457,33.36 457.5,33.36 458,33.35 458.5,33.34 459,33.33 459.5,33.32 460,33.32 460.5,33.31 461,33.3 461.5,33.3 462,33.29 462.5,33.28 463,33.28 463.5,33.27 464,33.26 464.5,33.26 465,33.25 465.5,33.25 466,33.24 466.5,33.24 467,33.23 467.5,33.22 468,33.22 468.5,33.21 469,33.21 469.5,33.2 470,33.2 470.5,33.2 471,33.19 471.5,33.19 472,33.18 472.5,33.18 473,33.17 473.5,33.17 474,33.16 474.5,33.16 475,33.15 475.5,33.15 476,33.14 476.5,33.14 477,33.13 477.5,33.13 478,33.13 478.5,33.12 479,33.12 479.5,33.11 480,33.11 480.5,33.1 481,33.1 481.5,33.1 482,33.09 482.5,33.09 483,33.08 483.5,33.08 484,33.08 484.5,33.07 485,33.07 485.5,33.07 486,33.06 486.5,33.06 487,33.05 487.5,33.05 488,33.05 488.5,33.04 489,33.04 489.5,33.04 490,33.04 490.5,33.03 491,33.03 491.5,33.03 492,33.03 492.5,33.02 493,33.02 493.5,33.02 494,33.02 494.5,33.01 495,33.01 495.5,33.01 496,33.01 496.5,33.01 497,33.01 497.5,33.01 498,33 498.5,33 499,33 499.5,33 500,33 500.5,33 501,33" fill="none" stroke="#333" stroke-width="0.9"/>
<line x1="422.6" y1="34.5" x2="422.6" y2="30.3" stroke="#333" stroke-width="0.8"/>
<line x1="432.4" y1="34.31" x2="432.4" y2="38.5" stroke="#333" stroke-width="0.8"/>
<line x1="403.6" y1="34.71" x2="403.6" y2="36.31" stroke="#333" stroke-width="0.7"/>
<line x1="408.77" y1="34.61" x2="408.77" y2="36.21" stroke="#333" stroke-width="0.7"/>
<line x1="413.94" y1="34.56" x2="413.94" y2="36.16" stroke="#333" stroke-width="0.7"/>
<line x1="419.11" y1="34.53" x2="419.11" y2="36.13" stroke="#333" stroke-width="0.7"/>
<line x1="424.28" y1="34.49" x2="424.28" y2="36.09" stroke="#333" stroke-width="0.7"/>
<line x1="429.45" y1="34.41" x2="429.45" y2="36.01" stroke="#333" stroke-width="0.7"/>
<line x1="434.62" y1="34.16" x2="434.62" y2="35.76" stroke="#333" stroke-width="0.7"/>
<line x1="439.79" y1="33.8" x2="439.79" y2="35.4" stroke="#333" stroke-width="0.7"/>
<line x1="444.96" y1="33.62" x2="444.96" y2="35.22" stroke="#333" stroke-width="0.7"/>
<line x1="450.13" y1="33.49" x2="450.13" y2="35.09" stroke="#333" stroke-width="0.7"/>
<line x1="455.3" y1="33.39" x2="455.3" y2="34.99" stroke="#333" stroke-width="0.7"/>
<line x1="460.47" y1="33.31" x2="460.47" y2="34.91" stroke="#333" stroke-width="0.7"/>
<line x1="465.64" y1="33.25" x2="465.64" y2="34.85" stroke="#333" stroke-width="0.7"/>
<line x1="470.81" y1="33.19" x2="470.81" y2="34.79" stroke="#333" stroke-width="0.7"/>
<line x1="475.98" y1="33.14" x2="475.98" y2="34.74" stroke="#333" stroke-width="0.7"/>
<line x1="481.15" y1="33.1" x2="481.15" y2="34.7" stroke="#333" stroke-width="0.7"/>
<line x1="486.32" y1="33.06" x2="486.32" y2="34.66" stroke="#333" stroke-width="0.7"/>
<line x1="491.49" y1="33.03" x2="491.49" y2="34.63" stroke="#333" stroke-width="0.7"/>
<line x1="496.66" y1="33.01" x2="496.66" y2="34.61" stroke="#333" stroke-width="0.7"/>
<line x1="403.6" y1="47.3" x2="403.6" y2="106.8" stroke="#7a7a7a" stroke-width="1.2"/>
<line x1="408.77" y1="47.3" x2="408.77" y2="107.4" stroke="#7a7a7a" stroke-width="1.2"/>
<line x1="413.94" y1="47.3" x2="413.94" y2="106.8" stroke="#7a7a7a" stroke-width="1.2"/>
<line x1="419.11" y1="47.3" x2="419.11" y2="106" stroke="#7a7a7a" stroke-width="1.2"/>
<line x1="424.28" y1="47.3" x2="424.28" y2="105.2" stroke="#7a7a7a" stroke-width="1.2"/>
<line x1="429.45" y1="47.3" x2="429.45" y2="101.5" stroke="#7a7a7a" stroke-width="1.2"/>
<line x1="434.62" y1="47.3" x2="434.62" y2="89.7" stroke="#7a7a7a" stroke-width="1.2"/>
<line x1="439.79" y1="47.3" x2="439.79" y2="66.2" stroke="#7a7a7a" stroke-width="1.2"/>
<line x1="444.96" y1="47.3" x2="444.96" y2="61" stroke="#7a7a7a" stroke-width="1.2"/>
<line x1="450.13" y1="47.3" x2="450.13" y2="57" stroke="#7a7a7a" stroke-width="1.2"/>
<line x1="455.3" y1="47.3" x2="455.3" y2="55.7" stroke="#7a7a7a" stroke-width="1.2"/>
<line x1="460.47" y1="47.3" x2="460.47" y2="55.2" stroke="#7a7a7a" stroke-width="1.2"/>
<line x1="465.64" y1="47.3" x2="465.64" y2="55.2" stroke="#7a7a7a" stroke-width="1.2"/>
<line x1="470.81" y1="47.3" x2="470.81" y2="55" stroke="#7a7a7a" stroke-width="1.2"/>
<line x1="475.98" y1="47.3" x2="475.98" y2="54.8" stroke="#7a7a7a" stroke-width="1.2"/>
<line x1="481.15" y1="47.3" x2="481.15" y2="54.8" stroke="#7a7a7a" stroke-width="1.2"/>
<line x1="486.32" y1="47.3" x2="486.32" y2="54.6" stroke="#7a7a7a" stroke-width="1.2"/>
<line x1="491.49" y1="47.3" x2="491.49" y2="54.6" stroke="#7a7a7a" stroke-width="1.2"/>
<line x1="496.66" y1="47.3" x2="496.66" y2="54.6" stroke="#7a7a7a" stroke-width="1.2"/>
<polyline points="396.8,46.8 398.5,47.8 400,47.3 501,47" fill="none" stroke="#333" stroke-width="0.9"/>
<polyline points="40.8,140.4 146,131.6" fill="none" stroke="#b4b4b4" stroke-width="0.8"/>
<polyline points="219.5,198.3 219.75,198.3 220,198.3 220.25,198.3 220.5,198.3 220.75,198.3 221,198.29 221.25,198.29 221.5,198.29 221.75,198.28 222,198.28 222.25,198.28 222.5,198.27 222.75,198.27 223,198.26 223.25,198.26 223.5,198.25 223.75,198.25 224,198.24 224.25,198.23 224.5,198.23 224.75,198.22 225,198.21 225.25,198.2 225.5,198.19 225.75,198.19 226,198.18 226.25,198.17 226.5,198.16 226.75,198.15 227,198.14 227.25,198.13 227.5,198.12 227.75,198.11 228,198.1 228.25,198.09 228.5,198.08 228.75,198.06 229,198.05 229.25,198.04 229.5,198.03 229.75,198.02 230,198 230.25,197.99 230.5,197.98 230.75,197.97 231,197.95 231.25,197.94 231.5,197.93 231.75,197.91 232,197.9 232.25,197.89 232.5,197.87 232.75,197.86 233,197.84 233.25,197.82 233.5,197.8 233.75,197.78 234,197.76 234.25,197.74 234.5,197.72 234.75,197.7 235,197.67 235.25,197.65 235.5,197.62 235.75,197.59 236,197.56 236.25,197.53 236.5,197.5 236.75,197.46 237,197.43 237.25,197.39 237.5,197.36 237.75,197.32 238,197.27 238.25,197.23 238.5,197.19 238.75,197.14 239,197.09 239.25,197.05 239.5,196.99 239.75,196.94 240,196.89 240.25,196.83 240.5,196.77 240.75,196.71 241,196.64 241.25,196.56 241.5,196.45 241.75,196.32 242,196.18 242.25,196.03 242.5,195.86 242.75,195.67 243,195.48 243.25,195.27 243.5,195.06 243.75,194.84 244,194.61 244.25,194.37 244.5,194.14 244.75,193.89 245,193.65 245.25,193.41 245.5,193.17 245.75,192.93 246,192.69 246.25,192.46 246.5,192.22 246.75,191.98 247,191.73 247.25,191.47 247.5,191.21 247.75,190.94 248,190.67 248.25,190.4 248.5,190.11 248.75,189.82 249,189.53 249.25,189.23 249.5,188.93 249.75,188.62 250,188.31 250.25,187.99 250.5,187.67 250.75,187.34 251,187 251.25,186.67 251.5,186.32 251.75,185.97 252,185.61 252.25,185.24 252.5,184.87 252.75,184.48 253,184.09 253.25,183.69 253.5,183.28 253.75,182.87 254,182.45 254.25,182.03 254.5,181.6 254.75,181.16 255,180.72 255.25,180.27 255.5,179.82 255.75,179.37 256,178.91 256.25,178.45 256.5,177.99 256.75,177.52 257,177.04 257.25,176.55 257.5,176.06 257.75,175.55 258,175.04 258.25,174.53 258.5,174 258.75,173.47 259,172.93 259.25,172.39 259.5,171.85 259.75,171.3 260,170.74 260.25,170.19 260.5,169.63 260.75,169.07 261,168.51 261.25,167.94 261.5,167.38 261.75,166.81 262,166.25 262.25,165.69 262.5,165.12 262.75,164.53 263,163.94 263.25,163.34 263.5,162.73 263.75,162.12 264,161.5 264.25,160.88 264.5,160.26 264.75,159.64 265,159.02 265.25,158.41 265.5,157.8 265.75,157.2 266,156.61 266.25,156.02 266.5,155.45 266.75,154.89 267,154.34 267.25,153.81 267.5,153.3 267.75,152.78 268,152.27 268.25,151.76 268.5,151.25 268.75,150.74 269,150.24 269.25,149.74 269.5,149.25 269.75,148.77 270,148.29 270.25,147.82 270.5,147.36 270.75,146.91 271,146.47 271.25,146.05 271.5,145.63 271.75,145.23 272,144.85 272.25,144.48 272.5,144.13 272.75,143.79 273,143.47 273.25,143.17 273.5,142.86 273.75,142.57 274,142.28 274.25,142 274.5,141.72 274.75,141.45 275,141.19 275.25,140.93 275.5,140.68 275.75,140.44 276,140.2 276.25,139.97 276.5,139.75 276.75,139.53 277,139.32 277.25,139.12 277.5,138.92 277.75,138.73 278,138.55 278.25,138.37 278.5,138.2 278.75,138.04 279,137.87 279.25,137.72 279.5,137.56 279.75,137.41 280,137.27 280.25,137.12 280.5,136.98 280.75,136.85 281,136.71 281.25,136.58 281.5,136.46 281.75,136.34 282,136.22 282.25,136.1 282.5,135.99 282.75,135.88 283,135.78 283.25,135.68 283.5,135.58 283.75,135.49 284,135.4 284.25,135.31 284.5,135.23 284.75,135.14 285,135.06 285.25,134.98 285.5,134.9 285.75,134.82 286,134.74 286.25,134.67 286.5,134.6 286.75,134.53 287,134.46 287.25,134.39 287.5,134.33 287.75,134.26 288,134.2 288.25,134.14 288.5,134.09 288.75,134.03 289,133.98 289.25,133.93 289.5,133.89 289.75,133.84 290,133.8 290.25,133.76 290.5,133.72 290.75,133.68 291,133.64 291.25,133.61 291.5,133.57 291.75,133.54 292,133.5 292.25,133.47 292.5,133.43 292.75,133.4 293,133.37 293.25,133.34 293.5,133.31 293.75,133.28 294,133.25 294.25,133.22 294.5,133.19 294.75,133.16 295,133.13 295.25,133.11 295.5,133.08 295.75,133.05 296,133.03 296.25,133.01 296.5,132.98 296.75,132.96 297,132.94 297.25,132.91 297.5,132.89 297.75,132.87 298,132.85 298.25,132.83 298.5,132.81 298.75,132.79 299,132.77 299.25,132.75 299.5,132.73 299.75,132.72 300,132.7 300.25,132.68 300.5,132.67 300.75,132.65 301,132.63 301.25,132.62 301.5,132.6 301.75,132.58 302,132.56 302.25,132.55 302.5,132.53 302.75,132.51 303,132.5 303.25,132.48 303.5,132.46 303.75,132.45 304,132.43 304.25,132.42 304.5,132.4 304.75,132.38 305,132.37 305.25,132.35 305.5,132.33 305.75,132.32 306,132.3 306.25,132.29 306.5,132.27 306.75,132.26 307,132.24 307.25,132.22 307.5,132.21 307.75,132.19 308,132.18 308.25,132.16 308.5,132.15 308.75,132.13 309,132.12 309.25,132.11 309.5,132.09 309.75,132.08 310,132.06 310.25,132.05 310.5,132.03 310.75,132.02 311,132.01 311.25,131.99 311.5,131.98 311.75,131.97 312,131.96 312.25,131.94 312.5,131.93 312.75,131.92 313,131.91 313.25,131.89 313.5,131.88 313.75,131.87 314,131.86 314.25,131.85 314.5,131.84 314.75,131.83 315,131.82 315.25,131.8 315.5,131.79 315.75,131.78 316,131.77 316.25,131.77 316.5,131.76 316.75,131.75 317,131.74 317.25,131.73 317.5,131.72 317.75,131.71 318,131.71 318.25,131.7 318.5,131.69 318.75,131.68 319,131.68 319.25,131.67 319.5,131.66 319.75,131.66 320,131.65 320.25,131.65 320.5,131.64 320.75,131.64 321,131.63 321.25,131.63 321.5,131.62 321.75,131.62 322,131.62 322.25,131.61 322.5,131.61 322.75,131.61 323,131.61 323.25,131.6 323.5,131.6 323.75,131.6 324,131.6 324.25,131.6 324.5,131.6" fill="none" stroke="#9a9a9a" stroke-width="0.8"/>
<polyline points="398.5,199.4 398.75,199.4 399,199.4 399.25,199.4 399.5,199.4 399.75,199.4 400,199.4 400.25,199.4 400.5,199.4 400.75,199.4 401,199.4 401.25,199.39 401.5,199.39 401.75,199.39 402,199.39 402.25,199.39 402.5,199.39 402.75,199.39 403,199.38 403.25,199.38 403.5,199.38 403.75,199.38 404,199.38 404.25,199.38 404.5,199.37 404.75,199.37 405,199.37 405.25,199.37 405.5,199.36 405.75,199.36 406,199.36 406.25,199.36 406.5,199.35 406.75,199.35 407,199.35 407.25,199.34 407.5,199.34 407.75,199.34 408,199.33 408.25,199.33 408.5,199.33 408.75,199.32 409,199.32 409.25,199.31 409.5,199.31 409.75,199.31 410,199.3 410.25,199.3 410.5,199.29 410.75,199.29 411,199.28 411.25,199.28 411.5,199.28 411.75,199.27 412,199.27 412.25,199.26 412.5,199.26 412.75,199.25 413,199.25 413.25,199.24 413.5,199.23 413.75,199.23 414,199.22 414.25,199.22 414.5,199.21 414.75,199.21 415,199.2 415.25,199.19 415.5,199.19 415.75,199.18 416,199.17 416.25,199.16 416.5,199.14 416.75,199.13 417,199.11 417.25,199.1 417.5,199.08 417.75,199.06 418,199.04 418.25,199.02 418.5,199 418.75,198.97 419,198.95 419.25,198.92 419.5,198.89 419.75,198.86 420,198.83 420.25,198.8 420.5,198.77 420.75,198.74 421,198.7 421.25,198.66 421.5,198.61 421.75,198.55 422,198.47 422.25,198.39 422.5,198.31 422.75,198.21 423,198.11 423.25,197.99 423.5,197.88 423.75,197.75 424,197.62 424.25,197.48 424.5,197.34 424.75,197.2 425,197.05 425.25,196.89 425.5,196.74 425.75,196.56 426,196.38 426.25,196.18 426.5,195.96 426.75,195.73 427,195.49 427.25,195.23 427.5,194.96 427.75,194.67 428,194.37 428.25,194.06 428.5,193.73 428.75,193.39 429,193.04 429.25,192.67 429.5,192.29 429.75,191.9 430,191.5 430.25,191.08 430.5,190.65 430.75,190.21 431,189.73 431.25,189.21 431.5,188.64 431.75,188.02 432,187.37 432.25,186.67 432.5,185.95 432.75,185.18 433,184.39 433.25,183.57 433.5,182.71 433.75,181.84 434,180.94 434.25,180.02 434.5,179.08 434.75,178.13 435,177.16 435.25,176.18 435.5,175.2 435.75,174.2 436,173.2 436.25,172.2 436.5,171.16 436.75,170.01 437,168.77 437.25,167.44 437.5,166.05 437.75,164.59 438,163.09 438.25,161.55 438.5,159.99 438.75,158.43 439,156.87 439.25,155.33 439.5,153.81 439.75,152.34 440,150.93 440.25,149.58 440.5,148.31 440.75,147.13 441,146.07 441.25,145.11 441.5,144.29 441.75,143.62 442,143.05 442.25,142.51 442.5,141.99 442.75,141.49 443,141.01 443.25,140.55 443.5,140.11 443.75,139.69 444,139.29 444.25,138.91 444.5,138.54 444.75,138.19 445,137.86 445.25,137.55 445.5,137.25 445.75,136.96 446,136.7 446.25,136.44 446.5,136.2 446.75,135.97 447,135.76 447.25,135.56 447.5,135.37 447.75,135.18 448,135 448.25,134.82 448.5,134.64 448.75,134.48 449,134.32 449.25,134.16 449.5,134.01 449.75,133.86 450,133.72 450.25,133.59 450.5,133.46 450.75,133.34 451,133.23 451.25,133.12 451.5,133.02 451.75,132.92 452,132.84 452.25,132.75 452.5,132.68 452.75,132.61 453,132.55 453.25,132.49 453.5,132.43 453.75,132.38 454,132.32 454.25,132.27 454.5,132.21 454.75,132.16 455,132.11 455.25,132.06 455.5,132.02 455.75,131.97 456,131.92 456.25,131.88 456.5,131.84 456.75,131.8 457,131.76 457.25,131.72 457.5,131.68 457.75,131.65 458,131.61 458.25,131.58 458.5,131.55 458.75,131.52 459,131.49 459.25,131.46 459.5,131.43 459.75,131.4 460,131.37 460.25,131.35 460.5,131.33 460.75,131.3 461,131.28 461.25,131.26 461.5,131.24 461.75,131.22 462,131.2 462.25,131.18 462.5,131.16 462.75,131.15 463,131.13 463.25,131.11 463.5,131.09 463.75,131.08 464,131.06 464.25,131.05 464.5,131.03 464.75,131.01 465,131 465.25,130.98 465.5,130.97 465.75,130.95 466,130.94 466.25,130.93 466.5,130.91 466.75,130.9 467,130.88 467.25,130.87 467.5,130.86 467.75,130.85 468,130.83 468.25,130.82 468.5,130.81 468.75,130.8 469,130.79 469.25,130.78 469.5,130.77 469.75,130.76 470,130.75 470.25,130.74 470.5,130.73 470.75,130.72 471,130.71 471.25,130.7 471.5,130.69 471.75,130.68 472,130.67 472.25,130.67 472.5,130.66 472.75,130.65 473,130.64 473.25,130.64 473.5,130.63 473.75,130.63 474,130.62 474.25,130.61 474.5,130.61 474.75,130.6 475,130.6 475.25,130.6 475.5,130.59 475.75,130.59 476,130.58 476.25,130.58 476.5,130.57 476.75,130.57 477,130.57 477.25,130.56 477.5,130.56 477.75,130.55 478,130.55 478.25,130.54 478.5,130.54 478.75,130.54 479,130.53 479.25,130.53 479.5,130.52 479.75,130.52 480,130.52 480.25,130.51 480.5,130.51 480.75,130.51 481,130.5 481.25,130.5 481.5,130.49 481.75,130.49 482,130.49 482.25,130.48 482.5,130.48 482.75,130.48 483,130.47 483.25,130.47 483.5,130.46 483.75,130.46 484,130.46 484.25,130.45 484.5,130.45 484.75,130.45 485,130.44 485.25,130.44 485.5,130.44 485.75,130.43 486,130.43 486.25,130.43 486.5,130.43 486.75,130.42 487,130.42 487.25,130.42 487.5,130.41 487.75,130.41 488,130.41 488.25,130.4 488.5,130.4 488.75,130.4 489,130.4 489.25,130.39 489.5,130.39 489.75,130.39 490,130.39 490.25,130.38 490.5,130.38 490.75,130.38 491,130.38 491.25,130.37 491.5,130.37 491.75,130.37 492,130.37 492.25,130.36 492.5,130.36 492.75,130.36 493,130.36 493.25,130.35 493.5,130.35 493.75,130.35 494,130.35 494.25,130.35 494.5,130.34 494.75,130.34 495,130.34 495.25,130.34 495.5,130.34 495.75,130.34 496,130.33 496.25,130.33 496.5,130.33 496.75,130.33 497,130.33 497.25,130.33 497.5,130.32 497.75,130.32 498,130.32 498.25,130.32 498.5,130.32 498.75,130.32 499,130.32 499.25,130.31 499.5,130.31 499.75,130.31 500,130.31 500.25,130.31 500.5,130.31 500.75,130.31 501,130.31 501.25,130.31 501.5,130.31 501.75,130.31 502,130.3 502.25,130.3 502.5,130.3 502.75,130.3 503,130.3 503.25,130.3 503.5,130.3 503.75,130.3 504,130.3 504.25,130.3 504.5,130.3 504.75,130.3 505,130.3 505.25,130.3 505.5,130.3" fill="none" stroke="#9a9a9a" stroke-width="0.8"/>
<circle cx="48" cy="141.9" r="1.65" fill="#000"/>
<circle cx="52.9" cy="139" r="1.65" fill="#000"/>
<circle cx="58.1" cy="138.7" r="1.65" fill="#000"/>
<circle cx="63.1" cy="137.6" r="1.65" fill="#000"/>
<circle cx="68.3" cy="136.5" r="1.65" fill="#000"/>
<circle cx="73.5" cy="140" r="1.65" fill="#000"/>
<circle cx="78.6" cy="136.5" r="1.65" fill="#000"/>
<circle cx="84.1" cy="134.6" r="1.65" fill="#000"/>
<circle cx="89.2" cy="136.1" r="1.65" fill="#000"/>
<circle cx="94.5" cy="136.4" r="1.65" fill="#000"/>
<circle cx="100.3" cy="133.5" r="1.65" fill="#000"/>
<circle cx="105.9" cy="135.9" r="1.65" fill="#000"/>
<circle cx="111.3" cy="138.1" r="1.65" fill="#000"/>
<circle cx="116.8" cy="137" r="1.65" fill="#000"/>
<circle cx="122.5" cy="132" r="1.65" fill="#000"/>
<circle cx="128.2" cy="129.1" r="1.65" fill="#000"/>
<circle cx="134" cy="133.1" r="1.65" fill="#000"/>
<circle cx="139.7" cy="130.5" r="1.65" fill="#000"/>
<circle cx="145.4" cy="131.9" r="1.65" fill="#000"/>
<circle cx="225.4" cy="198.1" r="1.65" fill="#000"/>
<circle cx="230.4" cy="197.4" r="1.65" fill="#000"/>
<circle cx="235.5" cy="196.8" r="1.65" fill="#000"/>
<circle cx="240.8" cy="197" r="1.65" fill="#000"/>
<circle cx="246.1" cy="192.2" r="1.65" fill="#000"/>
<circle cx="251.3" cy="187.4" r="1.65" fill="#000"/>
<circle cx="256.6" cy="178.3" r="1.65" fill="#000"/>
<circle cx="262.2" cy="165.6" r="1.65" fill="#000"/>
<circle cx="267.4" cy="153.4" r="1.65" fill="#000"/>
<circle cx="272.9" cy="142.2" r="1.65" fill="#000"/>
<circle cx="278.5" cy="138" r="1.65" fill="#000"/>
<circle cx="284" cy="135.1" r="1.65" fill="#000"/>
<circle cx="289.6" cy="134.7" r="1.65" fill="#000"/>
<circle cx="295.1" cy="133.5" r="1.65" fill="#000"/>
<circle cx="301" cy="132.9" r="1.65" fill="#000"/>
<circle cx="306.8" cy="131.6" r="1.65" fill="#000"/>
<circle cx="312.5" cy="132.4" r="1.65" fill="#000"/>
<circle cx="318.3" cy="132" r="1.65" fill="#000"/>
<circle cx="324.2" cy="131.3" r="1.65" fill="#000"/>
<circle cx="404.5" cy="199.2" r="1.65" fill="#000"/>
<circle cx="409.5" cy="199.2" r="1.65" fill="#000"/>
<circle cx="414.8" cy="198.8" r="1.65" fill="#000"/>
<circle cx="420.1" cy="199" r="1.65" fill="#000"/>
<circle cx="425.4" cy="197" r="1.65" fill="#000"/>
<circle cx="430.7" cy="190.5" r="1.65" fill="#000"/>
<circle cx="436.3" cy="172" r="1.65" fill="#000"/>
<circle cx="441.8" cy="142.6" r="1.65" fill="#000"/>
<circle cx="447.2" cy="135.4" r="1.65" fill="#000"/>
<circle cx="452.8" cy="132.8" r="1.65" fill="#000"/>
<circle cx="458.5" cy="133.5" r="1.65" fill="#000"/>
<circle cx="464.3" cy="131" r="1.65" fill="#000"/>
<circle cx="470" cy="132.2" r="1.65" fill="#000"/>
<circle cx="475.6" cy="129.1" r="1.65" fill="#000"/>
<circle cx="481.5" cy="130.3" r="1.65" fill="#000"/>
<circle cx="487.4" cy="129.4" r="1.65" fill="#000"/>
<circle cx="493.3" cy="130" r="1.65" fill="#000"/>
<circle cx="499.4" cy="130.7" r="1.65" fill="#000"/>
<circle cx="505.3" cy="130.3" r="1.65" fill="#000"/>
</svg>
</body></html>
